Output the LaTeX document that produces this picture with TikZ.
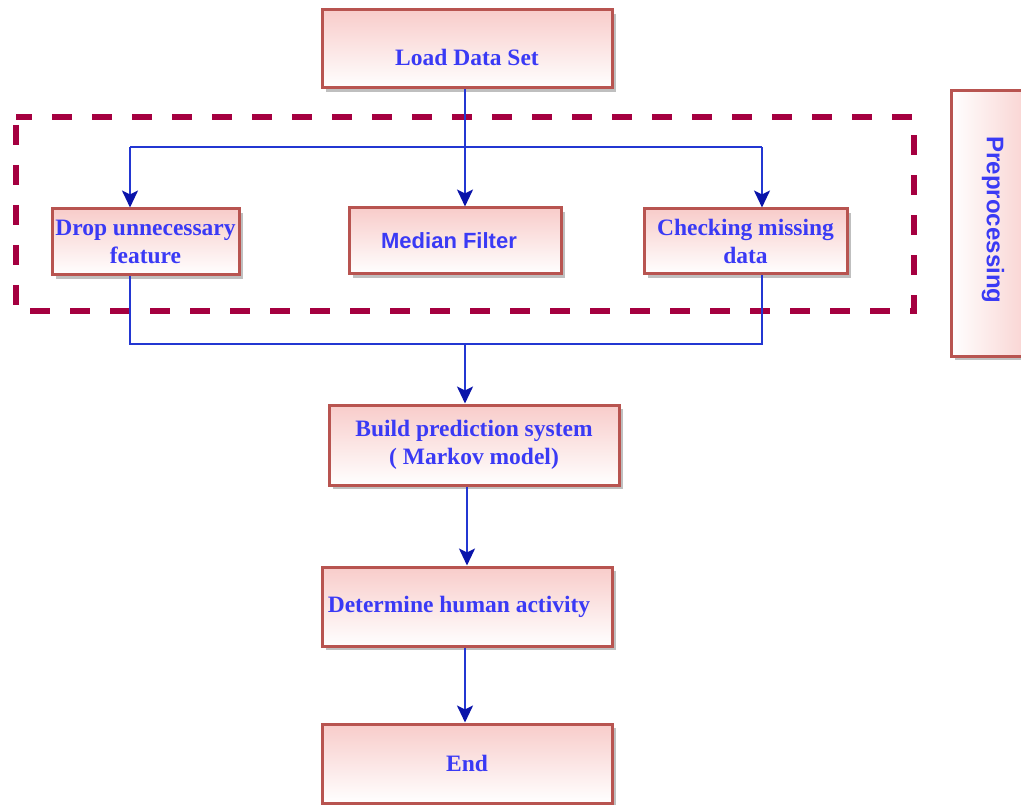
\documentclass[tikz,border=0pt]{standalone}
\usepackage{fontspec}
\setmainfont{Liberation Serif}
\newfontfamily\arialf{Liberation Sans}
\usetikzlibrary{arrows.meta,shadows}
\definecolor{boxborder}{RGB}{184,84,80}
\definecolor{boxpink}{RGB}{248,204,202}
\definecolor{txtblue}{RGB}{58,58,245}
\definecolor{lnblue}{RGB}{35,55,210}
\definecolor{tipblue}{RGB}{10,20,170}
\definecolor{dashred}{RGB}{165,0,64}
\tikzset{
  box/.style={draw=boxborder, line width=3pt, top color=boxpink, bottom color=white,
    drop shadow={shadow xshift=4pt, shadow yshift=-4pt, fill=black!25, opacity=1},
    align=center, text=txtblue, font=\fontsize{23.5}{28}\selectfont\bfseries,
    inner sep=2pt},
  ln/.style={draw=lnblue, line width=2.3pt},
  arr/.style={ln, -{Stealth[length=17pt,width=16pt,inset=4pt,color=tipblue]}},
}
\begin{document}
\begin{tikzpicture}[x=1pt,y=-1pt]
\useasboundingbox (0,0) rectangle (1021,805);
\clip (0,0) rectangle (1021,805);
% boxes
\node[box, minimum width=290pt, minimum height=78pt, text height=38pt, text depth=5pt] (load) at (467,49) {Load Data Set};
\node[box, minimum width=187pt, minimum height=66pt] (drop) at (145.5,242) {Drop unnecessary\\feature};
\node[box, minimum width=212pt, minimum height=66pt, font=\arialf\fontsize{22}{26}\selectfont\bfseries] (median) at (455,241) {\hspace*{-12pt}Median Filter};
\node[box, minimum width=203pt, minimum height=65pt] (check) at (745.5,241.5) {Checking missing\\data};
\node[box, minimum width=290pt, minimum height=80pt] (build) at (474,445) {Build prediction system\\( Markov model)};
\node[box, minimum width=290pt, minimum height=79pt] (det) at (467,606.5) {\hspace*{-16pt}Determine human activity};
\node[box, minimum width=290pt, minimum height=79pt] (endn) at (467,763.5) {End};
\node[box, top color=white, bottom color=white, left color=white, right color=boxpink,
  minimum width=90pt, minimum height=265pt] (pre) at (996,223.5) {};
\node[text=txtblue, font=\arialf\fontsize{24}{28}\selectfont\bfseries, rotate=-90] (pretxt) at (993,220) {Preprocessing};
% dashed group
\draw[dashred, line width=5.5pt, dash pattern=on 20pt off 20pt, dash phase=-8pt] (16,117) rectangle (914,311);
% connectors
\coordinate (cM) at (465,147);
\coordinate (cL) at (130,147);
\coordinate (cR) at (762,147);
\draw[ln] (cL) -- (cR);
\draw[ln] (cM |- load.south) -- (cM);
\draw[arr] (cM) -- (cM |- median.north);
\draw[arr] (cL) -- (cL |- drop.north);
\draw[arr] (cR) -- (cR |- check.north);
\coordinate (bL) at (130,344);
\coordinate (bR) at (762,344);
\coordinate (bM) at (465,344);
\draw[ln] (bL |- drop.south) -- (bL) -- (bR) -- (bR |- check.south);
\draw[arr] (bM) -- (bM |- build.north);
\coordinate (dM) at (467,500);
\draw[arr] (dM |- build.south) -- (dM |- det.north);
\coordinate (eM) at (465,700);
\draw[arr] (eM |- det.south) -- (eM |- endn.north);
\end{tikzpicture}
\end{document}
